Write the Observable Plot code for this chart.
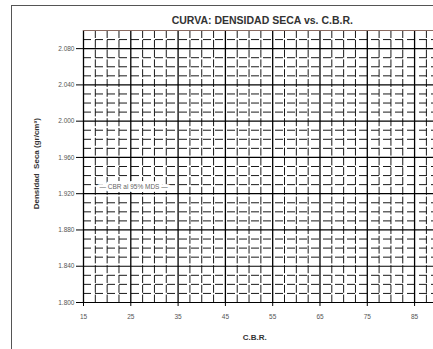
<!DOCTYPE html>
<html>
<head>
<meta charset="utf-8">
<script src="https://cdn.jsdelivr.net/npm/d3@7"></script>
<script src="https://cdn.jsdelivr.net/npm/@observablehq/plot@0.6"></script>
<style>
  html, body { margin: 0; padding: 0; background: #fff; overflow: hidden; }
  #wrap { position: relative; width: 433px; height: 349px; overflow: hidden; }
  #frame { position: absolute; left: 11px; top: 5px; width: 500px; height: 400px;
           border-left: 1px solid #555; border-top: 1px solid #555; }
  #chart { position: absolute; left: 0; top: 0; }
</style>
</head>
<body>
<div id="wrap"><div id="frame"></div><div id="chart"></div></div>
<script>
const title = "CURVA: DENSIDAD SECA vs. C.B.R.";
const xLabel = "C.B.R.";
const yLabel = "Densidad  Seca (gr/cm³)";
const xTicks = [15, 25, 35, 45, 55, 65, 75, 85];
const yTicks = [1.80, 1.84, 1.88, 1.92, 1.96, 2.00, 2.04, 2.08];
const refLabel = ["CBR al 95% MDS"];
const refY = [1.928];
const refLabelX = [25.6];

const xMinor = d3.range(15, 89.01, 2.5).filter(v => !xTicks.includes(v));
const yMinor = d3.range(181, 210).map(v => v / 100).filter(v => !yTicks.some(t => Math.abs(t - v) < 1e-6));
const yMajorLines = yTicks.concat([2.10]);

const fontFam = "Liberation Sans, Arial, sans-serif";

const plot = Plot.plot({
  width: 433,
  height: 349,
  marginLeft: 83,
  marginRight: 0,
  marginTop: 30,
  marginBottom: 47,
  style: { fontFamily: fontFam, background: "transparent", overflow: "visible" },
  x: { domain: [15, 89] },
  y: { domain: [1.80, 2.10] },
  marks: [
    // minor grid
    Plot.ruleX(xMinor, { stroke: "#1a1a1a", strokeWidth: 1, strokeDasharray: "8,1.8" }),
    Plot.ruleY(yMinor, { stroke: "#1a1a1a", strokeWidth: 1, strokeDasharray: "8,4" }),
    // major grid
    Plot.ruleX(xTicks, { stroke: "#000", strokeWidth: 1.3, y1: 1.80, y2: 2.10 }),
    Plot.ruleY(yMajorLines, { stroke: "#000", strokeWidth: 1.2 }),
    // top border (brownish)
    Plot.ruleY([2.10], { stroke: "#8a6a60", strokeWidth: 1.2 }),
    // reference line label with white halo
    Plot.text(refLabel, {
      x: refLabelX, y: refY, text: d => "\u2014 " + d + " \u2014",
      fill: "#666", stroke: "white", strokeWidth: 6, fontSize: 6.5, fontFamily: fontFam
    }),
    // axes
    Plot.axisX({
      ticks: xTicks, tickFormat: d => String(d), tickSize: 4, tickPadding: 8,
      fontSize: 6.5, fill: "#555", stroke: "#000", label: null
    }),
    Plot.axisY({
      ticks: yTicks, tickFormat: d3.format(".3f"), tickSize: 7, tickPadding: 2,
      fontSize: 6.5, fill: "#555", stroke: "#000", label: null
    }),
    // title and axis titles
    Plot.text([title], {
      frameAnchor: "top", x: 52.8, dy: -14, text: d => d,
      fontSize: 10.5, fontWeight: "bold", fill: "#333", fontFamily: fontFam
    }),
    Plot.text([xLabel], {
      frameAnchor: "bottom", x: 51.2, dy: 37, text: d => d,
      fontSize: 8, fontWeight: "bold", fill: "#333", fontFamily: fontFam
    }),
    Plot.text([yLabel], {
      frameAnchor: "left", y: 1.953, dx: -47, rotate: -90, textAnchor: "middle", text: d => d,
      fontSize: 8, fontWeight: "bold", fill: "#333", fontFamily: fontFam
    })
  ]
});
document.getElementById("chart").appendChild(plot);
</script>
</body>
</html>
